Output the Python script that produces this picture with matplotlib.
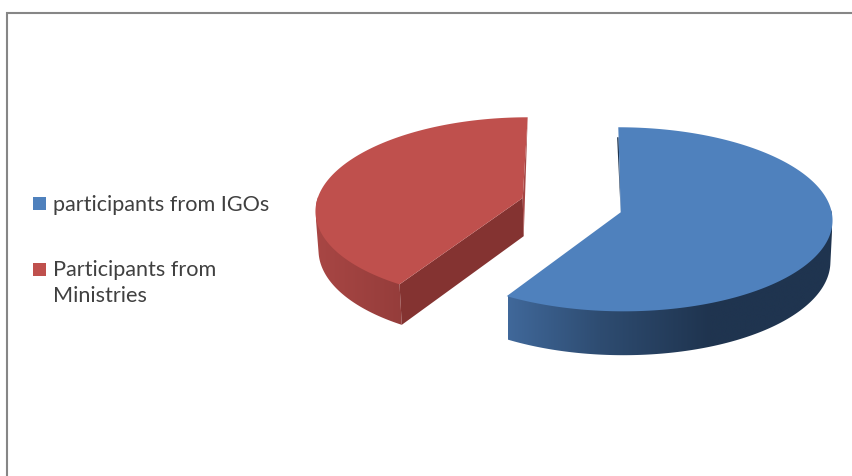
import numpy as np
import matplotlib
matplotlib.use("Agg")
import matplotlib.pyplot as plt
from matplotlib.colors import LinearSegmentedColormap
from matplotlib.patches import Polygon, Rectangle

categories = ["participants from IGOs", "Participants from\nMinistries"]
counts = [17, 12]

W, H = 852, 477
FRAME = "#868686"
TEXT = "#404040"

# Perspective disc settings for each exploded slice, in figure pixels
slices = [
    dict(cx=620.7, cy=213.3, rx=211.0, ry=91.5, k=0.076, sx=2.6, depth=41.0, dx=0.0,
         top="#4f81bd", cut="#1f344f",
         ramp=[(508, "#40689a"), (600, "#2e4c71"), (710, "#1f344f"), (832, "#1f344f")]),
    dict(cx=522.7, cy=199.0, rx=205.0, ry=90.4, k=0.120, sx=-5.6, depth=38.2, dx=1.0,
         top="#bf504d", cut="#843331",
         ramp=[(316, "#a84644"), (403, "#953d3b")]),
]


def place(s, u, v, lower=False):
    """Project a unit-disc point onto the tilted disc, optionally its underside."""
    w = 1 - s["k"] * v
    x = (s["rx"] * u + s["sx"] * v) / w
    y = s["ry"] * v / w
    if lower:
        x = x * 0.99 + s["dx"]
        y = y + s["depth"] * (1 + 0.07 * v)
    return s["cx"] + x, s["cy"] + y


def project(s, theta, lower=False):
    """Map clockwise-from-north angles onto the tilted disc."""
    return place(s, np.sin(theta), -np.cos(theta), lower)


def convex_hull(points):
    """Monotone chain hull, used to give the wall straight tangent sides."""
    pts = sorted(map(tuple, points))

    def half(seq):
        out = []
        for p in seq:
            while len(out) > 1 and ((out[-1][0] - out[-2][0]) * (p[1] - out[-2][1])
                                    - (out[-1][1] - out[-2][1]) * (p[0] - out[-2][0])) <= 0:
                out.pop()
            out.append(p)
        return out[:-1]

    return np.array(half(pts) + half(pts[::-1]))


fig = plt.figure(figsize=(W / 100, H / 100), dpi=100)
ax = fig.add_axes([0, 0, 1, 1])
ax.set_axis_off()

fractions = np.array(counts, dtype=float) / sum(counts)
edges = np.concatenate([[0.0], np.cumsum(fractions)]) * 2 * np.pi

for i, s in enumerate(slices):
    theta = np.linspace(edges[i], edges[i + 1], 300)

    # Curved outer wall: only the part facing the viewer, shaded along x
    front = theta[np.cos(theta) < 0.02]
    tx, ty = project(s, front)
    bx, by = project(s, front, lower=True)
    wall_xy = convex_hull(np.column_stack([np.r_[tx, bx], np.r_[ty, by]]))
    wall = Polygon(wall_xy, closed=True, fc="none", ec="none", zorder=2)
    ax.add_patch(wall)
    stops = s["ramp"]
    x0, x1 = stops[0][0], stops[-1][0]
    cmap = LinearSegmentedColormap.from_list(
        "wall", [((x - x0) / (x1 - x0), c) for x, c in stops])
    img = ax.imshow(np.linspace(0, 1, 256)[None, :], cmap=cmap, aspect="auto",
                    extent=(x0, x1, 400, 100), zorder=2, interpolation="bilinear")
    img.set_clip_path(wall)

    # Flat cut faces that show through the explosion gap
    hub_t = place(s, 0.0, 0.0)
    hub_b = place(s, 0.0, 0.0, lower=True)
    if i == 0:
        vx, vy = project(s, np.array([edges[0]]))
        ax.add_patch(Polygon([(vx[0] + 0.3, vy[0] + 10), hub_t, (vx[0] - 1.2, vy[0] + 10)],
                             closed=True, fc=s["cut"], ec="none", zorder=3))
    else:
        ex, ey = project(s, np.array([edges[i]]))
        ebx, eby = project(s, np.array([edges[i]]), lower=True)
        ax.add_patch(Polygon([hub_t, (ex[0], ey[0]), (ebx[0], eby[0]), hub_b],
                             closed=True, fc=s["cut"], ec="none", zorder=3))
        nx, ny = project(s, np.array([edges[i + 1]]))
        ax.add_patch(Polygon([(nx[0], ny[0]), hub_t, hub_b],
                             closed=True, fc="#a64644", ec="none", zorder=3))

    # Top face of the slice
    fx, fy = project(s, theta)
    face = np.column_stack([np.r_[fx, hub_t[0]], np.r_[fy, hub_t[1]]])
    ax.add_patch(Polygon(face, closed=True, fc=s["top"], ec="none", zorder=4))

# Legend entries: colour key and label
legend_rows = [(198.3, 211.2), (264.3, 276.2)]
for s, label, (key_y, base_y) in zip(slices, categories, legend_rows):
    ax.add_patch(Rectangle((33.3, key_y), 12.7, 12.7, fc=s["top"], ec="none", zorder=5))
    for n, line in enumerate(label.split("\n")):
        ax.text(53, base_y + n * 25.5, line, fontsize=15.6, family="Lato",
                color=TEXT, va="baseline", ha="left", zorder=5)

# Chart frame, open at the right and bottom where the image crops it
ax.plot([7, 7, W], [H, 14, 14], color=FRAME, lw=1.5, solid_joinstyle="miter", zorder=6)

ax.set_xlim(0, W)
ax.set_ylim(H, 0)
fig.savefig("out.png", dpi=100, facecolor="white")
